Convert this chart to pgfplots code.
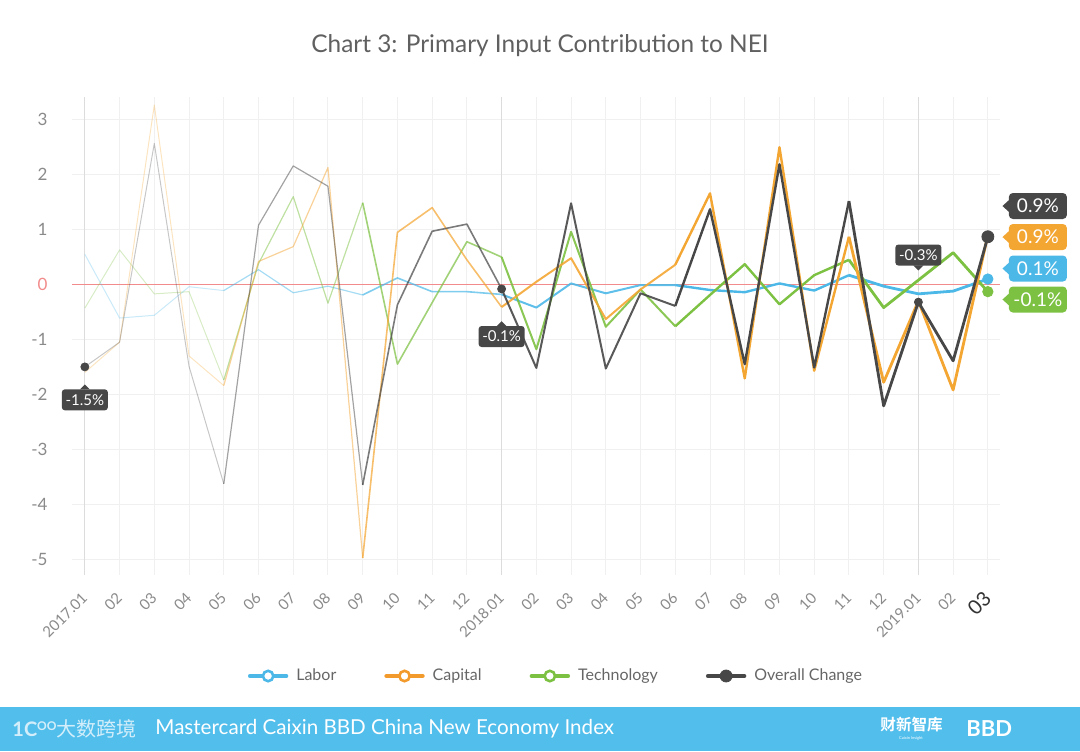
\documentclass[border=0pt]{standalone}
\usepackage{pgfplots}
\pgfplotsset{compat=1.18}
\usepackage{pgfplotstable}
\usepackage{fontspec}
\setmainfont{Lato}
\newfontfamily\cjk{Noto Sans CJK SC}
\newfontfamily\cjkb{Noto Sans CJK SC Bold}
\definecolor{laborc}{HTML}{4CB8E8}
\definecolor{capc}{HTML}{F4A633}
\definecolor{techc}{HTML}{7DC142}
\definecolor{overc}{HTML}{474747}
\definecolor{footc}{HTML}{52BEEC}
\definecolor{gridc}{HTML}{F0F0F0}
\definecolor{yearc}{HTML}{DCDCDC}
\definecolor{zeroc}{HTML}{F28B8B}
\definecolor{tickc}{HTML}{8A8A8A}
\definecolor{legc}{HTML}{666666}
\definecolor{titc}{HTML}{606060}
\definecolor{legorange}{HTML}{F39A2C}

\pgfplotstableread{
x lab cap tech over
0 0.55 -1.60 -0.43 -1.50
1 -0.61 -1.05 0.63 -1.05
2 -0.56 3.27 -0.17 2.57
3 -0.04 -1.30 -0.13 -1.49
4 -0.11 -1.84 -1.74 -3.63
5 0.27 0.42 0.38 1.08
6 -0.15 0.69 1.60 2.16
7 -0.03 2.13 -0.34 1.79
8 -0.19 -4.98 1.49 -3.65
9 0.12 0.95 -1.45 -0.37
10 -0.13 1.40 -0.33 0.97
11 -0.13 0.45 0.78 1.10
12 -0.18 -0.41 0.50 -0.08
13 -0.42 0.05 -1.18 -1.52
14 0.02 0.48 0.96 1.48
15 -0.16 -0.63 -0.77 -1.53
16 -0.01 -0.09 -0.09 -0.16
17 -0.01 0.36 -0.76 -0.39
18 -0.10 1.66 -0.19 1.37
19 -0.14 -1.71 0.37 -1.45
20 0.02 2.50 -0.36 2.19
21 -0.11 -1.57 0.17 -1.51
22 0.17 0.87 0.45 1.52
23 -0.03 -1.78 -0.42 -2.21
24 -0.17 -0.30 0.08 -0.32
25 -0.12 -1.92 0.58 -1.39
26 0.10 0.90 -0.13 0.87
}\data

\newcommand{\seg}[5]{\addplot[color=#1, line width=#4, opacity=#5, line join=round, forget plot, restrict x to domain=#3] table[x=x, y=#2] {\data};}
\newcommand{\series}[2]{%
\seg{#1}{#2}{0:4}{0.5pt}{0.3}
\seg{#1}{#2}{4:8}{0.6pt}{0.5}
\seg{#1}{#2}{8:12}{0.8pt}{0.72}
\seg{#1}{#2}{12:17}{1.0pt}{0.9}
\seg{#1}{#2}{17:22}{1.2pt}{1}
\seg{#1}{#2}{22:26}{1.4pt}{1}
}

\tikzset{
 ebox/.style={fill=#1, rounded corners=2pt, text=white, inner sep=0pt, minimum width=29pt, minimum height=13pt, font=\fontsize{9.5}{10}\selectfont},
 cbox/.style={fill=overc, rounded corners=1.5pt, text=white, inner sep=0pt, minimum width=23pt, minimum height=10.5pt, font=\fontsize{7.5}{8}\selectfont},
}

\begin{document}
\begin{tikzpicture}
\path[use as bounding box] (0,0) rectangle (540pt,375.5pt);
\begin{axis}[at={(36pt,88pt)}, anchor=south west, scale only axis,
 width=464pt, height=239pt,
 xmin=-0.37, xmax=26.35, ymin=-5.29, ymax=3.415,
 clip=false,
 axis line style={draw=none}, tick style={draw=none},
 xtick={0,...,26},
 xticklabels={2017.01,02,03,04,05,06,07,08,09,10,11,12,2018.01,02,03,04,05,06,07,08,09,10,11,12,2019.01,02,{\fontsize{10}{12}\selectfont\color{black!80}03}},
 ytick={-5,-4,-3,-2,-1,0,1,2,3},
 yticklabels={-5,-4,-3,-2,-1,{\color{zeroc}0},1,2,3},
 xmajorgrids, ymajorgrids,
 major grid style={color=gridc, line width=0.5pt},
 extra x ticks={0,12,24}, extra x tick labels={},
 extra x tick style={xmajorgrids, major grid style={color=yearc, line width=0.6pt}},
 extra y ticks={0}, extra y tick labels={},
 extra y tick style={ymajorgrids, major grid style={color=zeroc, line width=0.7pt}},
 xticklabel style={yshift=-10pt, rotate=45, anchor=east, inner sep=0pt, font=\fontsize{7.5}{9}\selectfont, text=tickc},
 yticklabel style={anchor=east, inner sep=0pt, xshift=-12pt, font=\fontsize{8.5}{10}\selectfont, text=tickc},
 legend columns=4,
 legend style={at={(0.5226,-0.2113)}, anchor=center, draw=none, fill=none,
   font=\fontsize{8}{10}\selectfont, text=legc,
   /tikz/every even column/.append style={column sep=22pt},
   /tikz/every odd column/.append style={column sep=2pt}},
]
\series{laborc}{lab}
\series{techc}{tech}
\series{capc}{cap}
\series{overc}{over}

\addplot[only marks, mark=*, mark size=2pt, color=overc, forget plot] coordinates {(0,-1.5) (12,-0.08) (24,-0.32)};
\addplot[only marks, mark=*, mark size=2.6pt, color=laborc, forget plot] coordinates {(26,0.10)};
\addplot[only marks, mark=*, mark size=2.6pt, color=techc, forget plot] coordinates {(26,-0.13)};
\addplot[only marks, mark=*, mark size=3pt, color=overc, forget plot] coordinates {(26,0.87)};

\addlegendimage{legend image code/.code={\draw[laborc, line width=2.2pt, line cap=round] (0pt,0pt) -- (18pt,0pt); \draw[laborc, line width=1.3pt, fill=white] (9pt,0pt) circle (2.6pt);}}
\addlegendentry{Labor}
\addlegendimage{legend image code/.code={\draw[legorange, line width=2.2pt, line cap=round] (0pt,0pt) -- (18pt,0pt); \draw[legorange, line width=1.3pt, fill=white] (9pt,0pt) circle (2.6pt);}}
\addlegendentry{Capital}
\addlegendimage{legend image code/.code={\draw[techc, line width=2.2pt, line cap=round] (0pt,0pt) -- (18pt,0pt); \draw[techc, line width=1.3pt, fill=white] (9pt,0pt) circle (2.6pt);}}
\addlegendentry{Technology}
\addlegendimage{legend image code/.code={\draw[overc, line width=2.2pt, line cap=round] (0pt,0pt) -- (18pt,0pt); \fill[overc] (9pt,0pt) circle (3pt);}}
\addlegendentry{Overall Change}

% callouts
\node[cbox] (ca) at (axis cs:0,-2.10) {-1.5\%};
\fill[overc] (ca.center) ++(-2.5pt,5.2pt) -- ++(2.5pt,2.5pt) -- ++(2.5pt,-2.5pt) -- cycle;
\node[cbox] (cb) at (axis cs:12,-0.947) {-0.1\%};
\fill[overc] (cb.center) ++(-2.5pt,5.2pt) -- ++(2.5pt,2.5pt) -- ++(2.5pt,-2.5pt) -- cycle;
\node[cbox] (cc) at (axis cs:24,0.537) {-0.3\%};
\fill[overc] (cc.center) ++(-2.5pt,-5.2pt) -- ++(2.5pt,-2.5pt) -- ++(2.5pt,2.5pt) -- cycle;

% end labels
\node[ebox=overc] (e1) at (axis cs:27.44,1.43) {0.9\%};
\fill[overc] (e1.west) ++(0.3pt,3pt) -- ++(-3.3pt,-3pt) -- ++(3.3pt,-3pt) -- cycle;
\node[ebox=capc] (e2) at (axis cs:27.44,0.865) {0.9\%};
\fill[capc] (e2.west) ++(0.3pt,3pt) -- ++(-3.3pt,-3pt) -- ++(3.3pt,-3pt) -- cycle;
\node[ebox=laborc] (e3) at (axis cs:27.44,0.291) {0.1\%};
\fill[laborc] (e3.west) ++(0.3pt,3pt) -- ++(-3.3pt,-3pt) -- ++(3.3pt,-3pt) -- cycle;
\node[ebox=techc] (e4) at (axis cs:27.44,-0.273) {-0.1\%};
\fill[techc] (e4.west) ++(0.3pt,3pt) -- ++(-3.3pt,-3pt) -- ++(3.3pt,-3pt) -- cycle;
\end{axis}

% title
\node[text=titc, font=\fontsize{12.2}{14}\selectfont] at (270pt,352.5pt) {Chart 3: Primary Input Contribution to NEI};

% footer
\fill[footc] (0,0) rectangle (540pt,22pt);
\node[anchor=west, text=white, font=\fontsize{10.3}{12}\selectfont, inner sep=0pt] at (77.5pt,11pt) {Mastercard Caixin BBD China New Economy Index};
\node[anchor=west, text=white, opacity=0.75, font=\fontsize{10}{12}\selectfont\bfseries, inner sep=0pt] at (6pt,11pt) {1C\raisebox{3pt}{\fontsize{6}{6}\selectfont OO}};
\node[anchor=west, text=white, opacity=0.75, font=\cjk\fontsize{10}{12}\selectfont, inner sep=0pt] at (28pt,11pt) {大数跨境};
\node[anchor=west, text=white, font=\cjkb\fontsize{7.8}{9}\selectfont, inner sep=0pt] at (440pt,13pt) {财新智库};
\node[text=white, font=\fontsize{2}{2}\selectfont, inner sep=0pt] at (455.5pt,6.5pt) {Caixin Insight};
\node[anchor=west, text=white, font=\fontsize{11}{12}\selectfont\bfseries, inner sep=0pt] at (483pt,11pt) {BBD};
\end{tikzpicture}
\end{document}
